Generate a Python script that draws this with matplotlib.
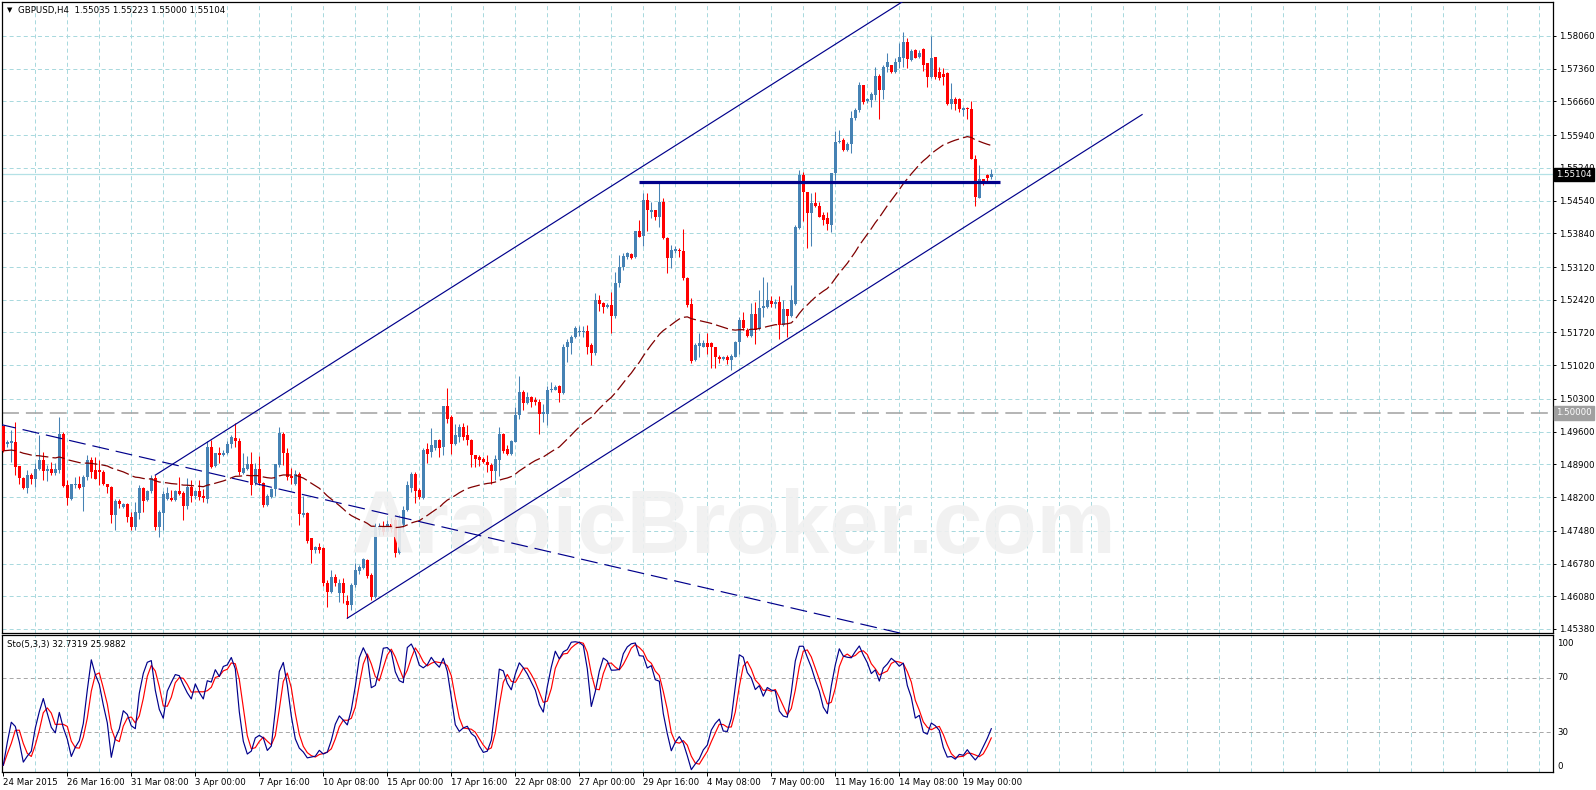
import numpy as np
import pandas as pd
import matplotlib
matplotlib.use("Agg")
import matplotlib.pyplot as plt
import matplotlib.transforms as mtransforms

plt.rcParams['lines.scale_dashes'] = False
plt.rcParams['font.family'] = ['DejaVu Sans']

# ---------------- data (GBPUSD H4) ----------------
opens = [1.4971,1.4933,1.4936,1.4938,1.4886,1.4860,1.4840,1.4867,1.4858,1.4880,
         1.4899,1.4876,1.4881,1.4871,1.4878,1.4954,1.4846,1.4817,1.4846,1.4849,
         1.4842,1.4862,1.4899,1.4878,1.4878,1.4874,1.4847,1.4842,1.4782,1.4812,
         1.4799,1.4805,1.4778,1.4755,1.4787,1.4839,1.4814,1.4832,1.4860,1.4755,
         1.4787,1.4817,1.4819,1.4814,1.4832,1.4829,1.4801,1.4841,1.4822,1.4832,
         1.4823,1.4815,1.4927,1.4887,1.4914,1.4910,1.4914,1.4934,1.4946,1.4941,
         1.4871,1.4880,1.4890,1.4850,1.4880,1.4850,1.4803,1.4821,1.4837,1.4889,
         1.4955,1.4914,1.4865,1.4849,1.4869,1.4781,1.4787,1.4732,1.4707,1.4714,
         1.4712,1.4636,1.4618,1.4649,1.4614,1.4636,1.4598,1.4589,1.4632,1.4663,
         1.4668,1.4685,1.4653,1.4607,1.4750,1.4758,1.4745,1.4762,1.4770,1.4700,
         1.4760,1.4793,1.4839,1.4869,1.4835,1.4818,1.4922,1.4917,1.4924,1.4942,
         1.4928,1.5015,1.4992,1.4933,1.4949,1.4969,1.4953,1.4943,1.4910,1.4906,
         1.4901,1.4896,1.4889,1.4876,1.4899,1.4956,1.4922,1.4913,1.4938,1.4995,
         1.5045,1.5022,1.5033,1.5027,1.5024,1.4997,1.4997,1.5048,1.5050,1.5057,
         1.5043,1.5140,1.5150,1.5162,1.5172,1.5174,1.5175,1.5145,1.5129,1.5241,
         1.5234,1.5226,1.5231,1.5208,1.5277,1.5311,1.5333,1.5340,1.5334,1.5390,
         1.5378,1.5455,1.5430,1.5434,1.5418,1.5452,1.5373,1.5331,1.5346,1.5348,
         1.5347,1.5288,1.5233,1.5113,1.5143,1.5142,1.5150,1.5149,1.5140,1.5120,
         1.5115,1.5120,1.5113,1.5120,1.5152,1.5199,1.5177,1.5164,1.5212,1.5181,
         1.5224,1.5227,1.5240,1.5233,1.5238,1.5188,1.5222,1.5208,1.5233,1.5395,
         1.5509,1.5473,1.5427,1.5448,1.5442,1.5423,1.5416,1.5402,1.5512,1.5579,
         1.5583,1.5562,1.5574,1.5630,1.5648,1.5701,1.5666,1.5669,1.5680,1.5721,
         1.5690,1.5740,1.5745,1.5730,1.5750,1.5758,1.5794,1.5755,1.5776,1.5762,
         1.5778,1.5748,1.5719,1.5762,1.5730,1.5724,1.5726,1.5660,1.5672,1.5671,
         1.5648,1.5652,1.5650,1.5544,1.5460,1.5500,1.5509,1.55035]
highs = [1.4972,1.4942,1.4963,1.4981,1.4886,1.4862,1.4878,1.4871,1.4892,1.4953,
         1.4917,1.4889,1.4896,1.4892,1.4992,1.4960,1.4857,1.4849,1.4864,1.4865,
         1.4867,1.4910,1.4906,1.4906,1.4899,1.4878,1.4849,1.4844,1.4817,1.4817,
         1.4808,1.4808,1.4789,1.4810,1.4846,1.4842,1.4835,1.4867,1.4867,1.4792,
         1.4832,1.4842,1.4835,1.4835,1.4864,1.4832,1.4860,1.4856,1.4835,1.4856,
         1.4838,1.4939,1.4942,1.4915,1.4928,1.4921,1.4939,1.4953,1.4979,1.4946,
         1.4914,1.4908,1.4917,1.4892,1.4907,1.4853,1.4827,1.4839,1.4890,1.4969,
         1.4960,1.4924,1.4882,1.4879,1.4874,1.4822,1.4789,1.4732,1.4715,1.4721,
         1.4713,1.4643,1.4664,1.4656,1.4644,1.4646,1.4611,1.4636,1.4680,1.4675,
         1.4689,1.4687,1.4657,1.4765,1.4765,1.4768,1.4770,1.4775,1.4778,1.4782,
         1.4800,1.4855,1.4874,1.4873,1.4840,1.4925,1.4935,1.4967,1.4943,1.4945,
         1.5015,1.5053,1.4995,1.4976,1.4976,1.4978,1.4974,1.4945,1.4910,1.4910,
         1.4905,1.4910,1.4892,1.4910,1.4970,1.4958,1.4931,1.4942,1.5013,1.5079,
         1.5049,1.5045,1.5036,1.5035,1.5029,1.5020,1.5057,1.5067,1.5060,1.5060,
         1.5147,1.5159,1.5167,1.5185,1.5185,1.5186,1.5188,1.5149,1.5257,1.5252,
         1.5238,1.5234,1.5259,1.5302,1.5338,1.5341,1.5345,1.5341,1.5390,1.5413,
         1.5470,1.5470,1.5452,1.5434,1.5491,1.5459,1.5377,1.5359,1.5357,1.5352,
         1.5393,1.5290,1.5245,1.5149,1.5170,1.5156,1.5170,1.5152,1.5142,1.5124,
         1.5122,1.5124,1.5125,1.5154,1.5206,1.5216,1.5181,1.5234,1.5238,1.5263,
         1.5290,1.5281,1.5250,1.5243,1.5250,1.5242,1.5222,1.5273,1.5402,1.5520,
         1.5516,1.5473,1.5470,1.5473,1.5452,1.5430,1.5430,1.5512,1.5603,1.5605,
         1.5587,1.5579,1.5646,1.5651,1.5707,1.5702,1.5674,1.5687,1.5740,1.5724,
         1.5744,1.5769,1.5745,1.5760,1.5790,1.5814,1.5802,1.5778,1.5778,1.5776,
         1.5780,1.5748,1.5807,1.5762,1.5740,1.5737,1.5730,1.5705,1.5676,1.5674,
         1.5655,1.5655,1.5667,1.5551,1.5531,1.5501,1.5510,1.55223]
lows = [1.4916,1.4928,1.4896,1.4867,1.4849,1.4838,1.4828,1.4849,1.4842,1.4878,
        1.4856,1.4855,1.4867,1.4867,1.4871,1.4841,1.4803,1.4814,1.4839,1.4837,
        1.4791,1.4856,1.4860,1.4858,1.4846,1.4846,1.4828,1.4764,1.4750,1.4796,
        1.4796,1.4767,1.4750,1.4750,1.4774,1.4789,1.4812,1.4828,1.4750,1.4735,
        1.4750,1.4814,1.4812,1.4812,1.4824,1.4771,1.4794,1.4810,1.4817,1.4814,
        1.4810,1.4807,1.4882,1.4885,1.4892,1.4908,1.4912,1.4924,1.4928,1.4867,
        1.4869,1.4878,1.4825,1.4846,1.4846,1.4798,1.4801,1.4818,1.4822,1.4885,
        1.4889,1.4857,1.4849,1.4846,1.4760,1.4778,1.4721,1.4680,1.4700,1.4701,
        1.4629,1.4584,1.4616,1.4629,1.4596,1.4594,1.4561,1.4579,1.4628,1.4656,
        1.4666,1.4646,1.4599,1.4604,1.4740,1.4738,1.4740,1.4745,1.4692,1.4698,
        1.4745,1.4790,1.4830,1.4808,1.4815,1.4815,1.4892,1.4906,1.4921,1.4906,
        1.4910,1.4978,1.4913,1.4931,1.4938,1.4942,1.4931,1.4885,1.4885,1.4886,
        1.4892,1.4874,1.4849,1.4856,1.4865,1.4915,1.4910,1.4910,1.4938,1.4986,
        1.5006,1.5020,1.5012,1.5017,1.4956,1.4981,1.4974,1.5045,1.5049,1.5024,
        1.5040,1.5108,1.5127,1.5160,1.5165,1.5163,1.5127,1.5102,1.5124,1.5217,
        1.5214,1.5224,1.5170,1.5202,1.5270,1.5306,1.5329,1.5329,1.5331,1.5376,
        1.5357,1.5390,1.5416,1.5413,1.5398,1.5371,1.5300,1.5309,1.5343,1.5334,
        1.5284,1.5227,1.5106,1.5110,1.5120,1.5140,1.5127,1.5095,1.5095,1.5106,
        1.5113,1.5105,1.5092,1.5119,1.5127,1.5177,1.5162,1.5163,1.5147,1.5177,
        1.5206,1.5224,1.5227,1.5224,1.5159,1.5185,1.5163,1.5206,1.5231,1.5393,
        1.5411,1.5352,1.5357,1.5441,1.5418,1.5402,1.5391,1.5387,1.5498,1.5577,
        1.5560,1.5560,1.5555,1.5626,1.5644,1.5660,1.5662,1.5655,1.5669,1.5629,
        1.5671,1.5730,1.5726,1.5726,1.5737,1.5740,1.5738,1.5753,1.5758,1.5760,
        1.5731,1.5698,1.5717,1.5714,1.5712,1.5701,1.5658,1.5650,1.5648,1.5643,
        1.5634,1.5629,1.5543,1.5443,1.5459,1.5487,1.5491,1.55000]
closes = [1.4919,1.4938,1.4941,1.4884,1.4860,1.4840,1.4867,1.4858,1.4881,1.4899,
          1.4876,1.4881,1.4871,1.4881,1.4954,1.4844,1.4819,1.4847,1.4849,1.4839,
          1.4862,1.4899,1.4874,1.4859,1.4873,1.4847,1.4841,1.4782,1.4812,1.4805,
          1.4805,1.4778,1.4757,1.4789,1.4839,1.4812,1.4834,1.4860,1.4757,1.4789,
          1.4827,1.4828,1.4814,1.4832,1.4827,1.4801,1.4841,1.4823,1.4832,1.4821,
          1.4818,1.4928,1.4885,1.4914,1.4910,1.4915,1.4934,1.4949,1.4941,1.4874,
          1.4883,1.4890,1.4846,1.4880,1.4850,1.4803,1.4822,1.4837,1.4890,1.4958,
          1.4914,1.4862,1.4860,1.4869,1.4784,1.4787,1.4727,1.4707,1.4714,1.4707,
          1.4636,1.4618,1.4649,1.4636,1.4636,1.4614,1.4589,1.4632,1.4664,1.4670,
          1.4687,1.4651,1.4607,1.4755,1.4758,1.4745,1.4762,1.4752,1.4700,1.4772,
          1.4793,1.4845,1.4869,1.4832,1.4821,1.4921,1.4913,1.4931,1.4942,1.4926,
          1.5015,1.4988,1.4933,1.4953,1.4969,1.4949,1.4943,1.4910,1.4901,1.4899,
          1.4896,1.4889,1.4876,1.4901,1.4956,1.4918,1.4913,1.4941,1.4995,1.5045,
          1.5022,1.5033,1.5024,1.5023,1.4997,1.5001,1.5050,1.5052,1.5056,1.5043,
          1.5142,1.5152,1.5163,1.5182,1.5175,1.5176,1.5142,1.5129,1.5241,1.5233,
          1.5226,1.5231,1.5208,1.5277,1.5311,1.5336,1.5341,1.5331,1.5390,1.5377,
          1.5455,1.5433,1.5434,1.5420,1.5452,1.5373,1.5331,1.5348,1.5350,1.5346,
          1.5288,1.5231,1.5110,1.5145,1.5150,1.5150,1.5142,1.5140,1.5119,1.5115,
          1.5120,1.5113,1.5122,1.5152,1.5199,1.5181,1.5164,1.5212,1.5177,1.5224,
          1.5229,1.5241,1.5233,1.5238,1.5188,1.5222,1.5208,1.5241,1.5398,1.5509,
          1.5473,1.5427,1.5448,1.5442,1.5420,1.5413,1.5403,1.5512,1.5580,1.5581,
          1.5562,1.5576,1.5630,1.5648,1.5701,1.5664,1.5671,1.5683,1.5721,1.5690,
          1.5740,1.5751,1.5730,1.5751,1.5762,1.5794,1.5757,1.5774,1.5760,1.5769,
          1.5744,1.5719,1.5760,1.5719,1.5717,1.5719,1.5660,1.5671,1.5660,1.5650,
          1.5651,1.5650,1.5544,1.5462,1.5500,1.5497,1.5502,1.55104]

price_ticks = [1.58060, 1.57360, 1.56660, 1.55940, 1.55240, 1.54540, 1.53840,
               1.53120, 1.52420, 1.51720, 1.51020, 1.50300, 1.49600, 1.48900,
               1.48200, 1.47480, 1.46780, 1.46080, 1.45380]
date_labels = ["24 Mar 2015", "26 Mar 16:00", "31 Mar 08:00", "3 Apr 00:00",
               "7 Apr 16:00", "10 Apr 08:00", "15 Apr 00:00", "17 Apr 16:00",
               "22 Apr 08:00", "27 Apr 00:00", "29 Apr 16:00", "4 May 08:00",
               "7 May 00:00", "11 May 16:00", "14 May 08:00", "19 May 00:00"]
date_label_bars = [0, 16, 32, 48, 64, 80, 96, 112, 128, 144, 160, 176, 192, 208, 224, 240]

current_price = 1.55104
round_level = 1.50000
hline_level = 1.54945
hline_bars = [159, 249.2]
upper_channel_bars = [38, 284.7]
upper_channel_prices = [1.4867, 1.6204]
lower_channel_bars = [86, 284.7]
lower_channel_prices = [1.4561, 1.5638]
dashed_trend_bars = [-1, 230]
dashed_trend_prices = [1.49760, 1.45177]
stoch_levels = [70, 30]
title_text = "GBPUSD,H4  1.55035 1.55223 1.55000 1.55104"
stoch_text = "Sto(5,3,3) 32.7319 25.9882"
watermark = "ArabicBroker.com"

# ---------------- indicators ----------------
O = np.array(opens); Hh = np.array(highs); L = np.array(lows); C = np.array(closes)
n = len(C)
x = np.arange(n)
cs = pd.Series(C)
ma = cs.ewm(span=50, adjust=False).mean().values
hh5 = pd.Series(Hh).rolling(5, min_periods=1).max()
ll5 = pd.Series(L).rolling(5, min_periods=1).min()
num = (cs - ll5).rolling(3, min_periods=1).sum()
den = (hh5 - ll5).rolling(3, min_periods=1).sum()
k_line = (100 * num / den).values
d_line = pd.Series(k_line).rolling(3, min_periods=1).mean().values

# ---------------- figure ----------------
W, Hpx = 1596, 790
fig = plt.figure(figsize=(W / 100, Hpx / 100), dpi=100)
fig.patch.set_facecolor('white')

def rect(l, t, r, b):
    return [l / W, 1 - b / Hpx, (r - l) / W, (b - t) / Hpx]

ax = fig.add_axes(rect(2, 2, 1553, 633))
ax2 = fig.add_axes(rect(2, 635, 1553, 772))
XMIN, XMAX = -0.325, 387.425
for a in (ax, ax2):
    a.set_xlim(XMIN, XMAX)
    for s in a.spines.values():
        s.set_color('black')
        s.set_linewidth(0.9)
ax.set_ylim(1.45294, 1.58787)
ax2.set_ylim(0.4, 101.8)

GRID = '#A9D9DE'
griddash = (0, (2.9, 2.2))
for a in (ax, ax2):
    for gx in range(8, 390, 8):
        a.axvline(gx, color=GRID, lw=0.72, ls=griddash, zorder=1)
for p in price_ticks:
    ax.axhline(p, color=GRID, lw=0.72, ls=griddash, zorder=1)

# current price line and round level
ax.axhline(current_price, color='#B4E1E6', lw=0.9, zorder=2)
ax.axhline(round_level, color='#A0A0A0', lw=1.1, ls=(0, (12.2, 5.0)), zorder=2)

# candles
up = C >= O
cols = np.where(up, '#4682B4', '#FF0000')
ax.vlines(x, L, Hh, colors=cols, lw=0.75, zorder=3)
body_b = np.minimum(O, C)
body_h = np.maximum(np.abs(C - O), 0.00015)
ax.bar(x, body_h, bottom=body_b, width=0.78, color=cols, linewidth=0, zorder=4)

# watermark
ax.text(182.5, 1.47005, watermark, ha='center', va='baseline',
        fontsize=64, fontweight='bold', family='Liberation Sans',
        color='#F0F0F0', alpha=0.9, zorder=5)

# moving average
ax.plot(x, ma, color='#800000', lw=0.9, ls=(0, (9, 3)), zorder=6)

# trend objects
NAVY = '#00008B'
ax.plot(upper_channel_bars, upper_channel_prices, color=NAVY, lw=0.85, zorder=7)
ax.plot(lower_channel_bars, lower_channel_prices, color=NAVY, lw=0.85, zorder=7)
ax.plot(dashed_trend_bars, dashed_trend_prices, color=NAVY, lw=0.85,
        ls=(0, (12.2, 5.0)), zorder=7)
ax.plot(hline_bars, [hline_level, hline_level], color=NAVY, lw=2.3,
        solid_capstyle='butt', zorder=7)

# price axis on the right
ax.yaxis.tick_right()
ax.set_yticks(price_ticks)
ax.set_yticklabels([f"{p:.5f}" for p in price_ticks])
ax.tick_params(axis='y', direction='out', length=2.2, width=0.7, pad=2.4,
               labelsize=6.2, colors='black')
ax.tick_params(axis='x', bottom=False, labelbottom=False, top=False)

blend = mtransforms.blended_transform_factory(ax.transAxes, ax.transData)
ax.text(1 + 3.5 / 1551, current_price, "1.55104", transform=blend, color='white',
        fontsize=6.2, va='center', ha='left', zorder=20, clip_on=False,
        bbox=dict(boxstyle='square,pad=0.25', fc='black', ec='black'))
ax.text(1 + 3.5 / 1551, round_level, "1.50000", transform=blend, color='white',
        fontsize=6.2, va='center', ha='left', zorder=20, clip_on=False,
        bbox=dict(boxstyle='square,pad=0.25', fc='#A0A0A0', ec='#A0A0A0'))

# stochastic panel
for lv in stoch_levels:
    ax2.axhline(lv, color='#A8A8A8', lw=0.72, ls=griddash, zorder=1)
ax2.plot(x, k_line, color='#00008B', lw=0.85, zorder=4)
ax2.plot(x, d_line, color='#FF0000', lw=0.85, zorder=3)
ax2.set_yticks([])
blend2 = mtransforms.blended_transform_factory(ax2.transAxes, ax2.transData)
sx = 1 + 4 / 1551
ax2.text(sx, 98.5, "100", transform=blend2, fontsize=6.2, va='top', ha='left', clip_on=False)
ax2.text(sx, 70, "70", transform=blend2, fontsize=6.2, va='center', ha='left', clip_on=False)
ax2.text(sx, 30, "30", transform=blend2, fontsize=6.2, va='center', ha='left', clip_on=False)
ax2.text(sx, 1.5, "0", transform=blend2, fontsize=6.2, va='bottom', ha='left', clip_on=False)

ax2.set_xticks([b - 0.15 for b in date_label_bars])
ax2.set_xticklabels(date_labels)
for lbl in ax2.get_xticklabels():
    lbl.set_horizontalalignment('left')
ax2.tick_params(axis='x', direction='out', length=2.9, width=0.7, pad=1.6,
                labelsize=6.2, colors='black')

# titles
fig.text(7 / W, 1 - 10.5 / Hpx, "\u25BC", fontsize=5, va='center', ha='left')
fig.text(18 / W, 1 - 10.5 / Hpx, title_text, fontsize=6.2, va='center', ha='left')
fig.text(7 / W, 1 - 644 / Hpx, stoch_text, fontsize=6.2, va='center', ha='left')

fig.savefig("out.png", dpi=100, facecolor='white')
